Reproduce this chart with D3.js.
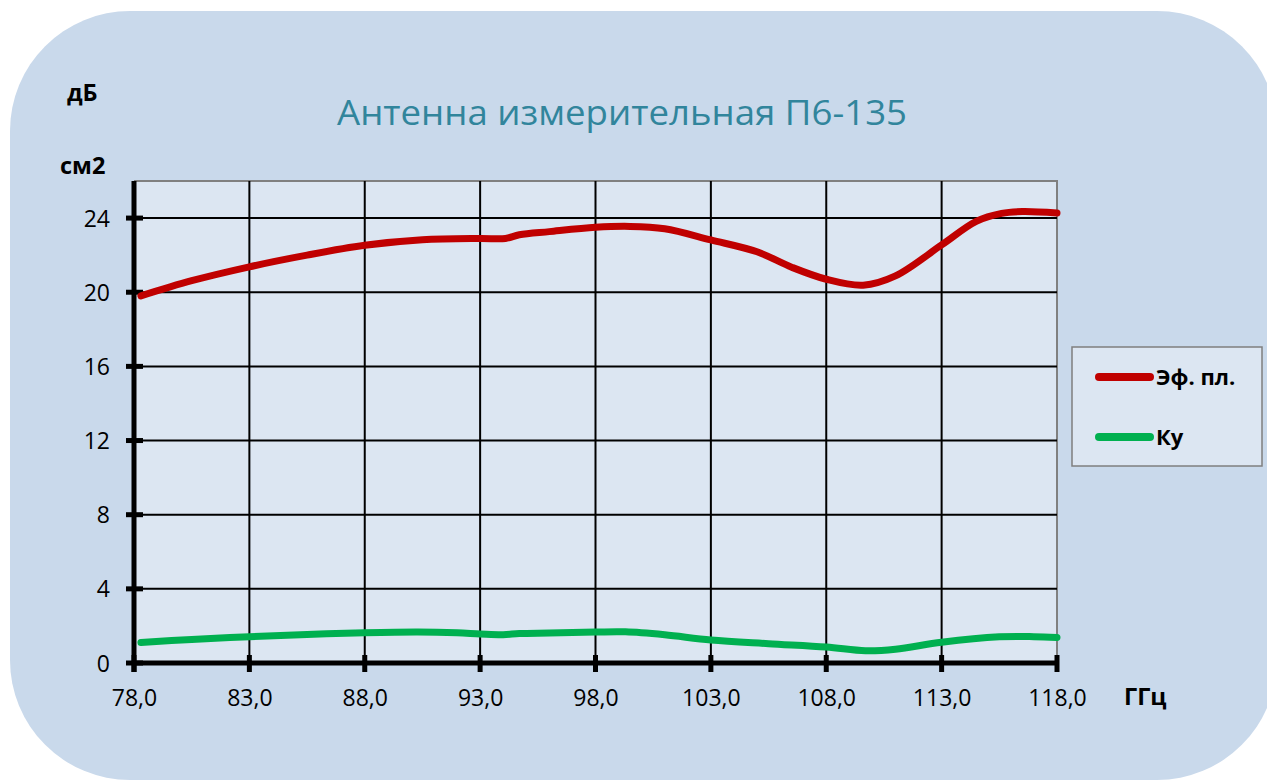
<!DOCTYPE html>
<html>
<head>
<meta charset="utf-8">
<script src="https://cdn.jsdelivr.net/npm/d3@7"></script>
<style>
  html, body { margin: 0; padding: 0; background: #ffffff; }
  svg { display: block; font-family: "Open Sans", "Noto Sans", sans-serif; }
</style>
</head>
<body>
<svg id="chart" width="1267" height="780"></svg>
<script>
// ---- Data ----
const titleText = "Антенна измерительная П6-135";
const xTicks = [78, 83, 88, 93, 98, 103, 108, 113, 118];
const yTicks = [0, 4, 8, 12, 16, 20, 24];
const seriesNames = ["Эф. пл.", "Ку"];

const effFreq   = [78.3, 80.5, 83, 85.5, 88, 90.5, 93, 94.1, 94.7, 96, 98, 99.5, 101, 103, 105, 106.5, 108, 109.6, 111, 113, 114.5, 115.6, 116.5, 118];
const effValues = [19.8, 20.62, 21.37, 22.0, 22.53, 22.83, 22.9, 22.9, 23.1, 23.27, 23.5, 23.55, 23.42, 22.82, 22.18, 21.35, 20.7, 20.38, 20.88, 22.55, 23.82, 24.25, 24.35, 24.27];

const kuFreq   = [78.3, 80.5, 83, 85.5, 88, 90.3, 92, 93, 94, 94.7, 96, 98, 99.3, 101, 103, 105.5, 108, 109.7, 111, 113, 115.5, 117, 118];
const kuValues = [1.11, 1.27, 1.42, 1.54, 1.63, 1.67, 1.63, 1.57, 1.53, 1.59, 1.62, 1.67, 1.68, 1.52, 1.24, 1.04, 0.86, 0.66, 0.74, 1.12, 1.41, 1.42, 1.38];

const colors = ["#c00000", "#00b050"];

// ---- Layout ----
const plot = { left: 134, right: 1057, top: 181, bottom: 663 };

const svg = d3.select("#chart");

// rounded background panel
svg.append("rect")
  .attr("x", 10).attr("y", 11)
  .attr("width", 1267).attr("height", 769)
  .attr("rx", 120).attr("ry", 120)
  .attr("fill", "#c9d9eb");

const x = d3.scaleLinear().domain([78, 118]).range([plot.left, plot.right]);
const y = d3.scaleLinear().domain([0, 26]).range([plot.bottom, plot.top]);

// plot area
svg.append("rect")
  .attr("x", plot.left).attr("y", plot.top)
  .attr("width", plot.right - plot.left).attr("height", plot.bottom - plot.top)
  .attr("fill", "#dce6f2");

// plot top/right border (gray)
svg.append("path")
  .attr("d", `M${plot.left},${plot.top}H${plot.right}V${plot.bottom}`)
  .attr("fill", "none").attr("stroke", "#808080").attr("stroke-width", 2);

// grid lines
const grid = svg.append("g");
grid.selectAll("line.h").data(yTicks.filter(d => d > 0)).join("line")
  .attr("class", "h")
  .attr("x1", plot.left).attr("x2", plot.right)
  .attr("y1", d => y(d)).attr("y2", d => y(d))
  .attr("stroke", "#000").attr("stroke-width", 2);
grid.selectAll("line.v").data(xTicks.slice(1, -1)).join("line")
  .attr("class", "v")
  .attr("x1", d => x(d)).attr("x2", d => x(d))
  .attr("y1", plot.top).attr("y2", plot.bottom)
  .attr("stroke", "#000").attr("stroke-width", 2);

// Y axis via d3.axisLeft
const yAxis = d3.axisLeft(y).tickValues(yTicks).tickSize(0).tickFormat(d => d);
const gy = svg.append("g").attr("transform", `translate(${plot.left},0)`).call(yAxis);
gy.select(".domain").remove();
gy.selectAll("text")
  .attr("x", -24).attr("dy", "0.35em")
  .attr("font-size", 23).attr("fill", "#000")
  .attr("font-family", "'Open Sans', sans-serif");
// y tick marks
svg.append("g").selectAll("line").data(yTicks).join("line")
  .attr("x1", plot.left - 8).attr("x2", plot.left + 9)
  .attr("y1", d => y(d)).attr("y2", d => y(d))
  .attr("stroke", "#000").attr("stroke-width", 5);
// y axis line
svg.append("line")
  .attr("x1", plot.left).attr("x2", plot.left)
  .attr("y1", plot.top).attr("y2", plot.bottom + 9)
  .attr("stroke", "#000").attr("stroke-width", 5);

// X axis via d3.axisBottom
const xAxis = d3.axisBottom(x).tickValues(xTicks).tickSize(0)
  .tickFormat(d => d.toFixed(1).replace(".", ","));
const gx = svg.append("g").attr("transform", `translate(0,${plot.bottom})`).call(xAxis);
gx.select(".domain").remove();
gx.selectAll("text")
  .attr("y", 43).attr("dy", 0)
  .attr("font-size", 23).attr("fill", "#000")
  .attr("font-family", "'Open Sans', sans-serif");
svg.append("g").selectAll("line").data(xTicks).join("line")
  .attr("x1", d => x(d)).attr("x2", d => x(d))
  .attr("y1", plot.bottom - 8).attr("y2", plot.bottom + 9)
  .attr("stroke", "#000").attr("stroke-width", 5);
svg.append("line")
  .attr("x1", plot.left).attr("x2", plot.right)
  .attr("y1", plot.bottom).attr("y2", plot.bottom)
  .attr("stroke", "#000").attr("stroke-width", 5);

// series lines
const line = d3.line().curve(d3.curveCatmullRom.alpha(0.5))
  .x(d => x(d[0])).y(d => y(d[1]));
const series = [
  d3.zip(effFreq, effValues),
  d3.zip(kuFreq, kuValues)
];
svg.append("g").selectAll("path").data(series).join("path")
  .attr("d", line)
  .attr("fill", "none")
  .attr("stroke", (d, i) => colors[i])
  .attr("stroke-width", 7)
  .attr("stroke-linecap", "round")
  .attr("stroke-linejoin", "round");

// title
svg.append("text")
  .attr("x", 622).attr("y", 125)
  .attr("text-anchor", "middle")
  .attr("font-size", 35)
  .attr("fill", "#31859c")
  .attr("textLength", 570).attr("lengthAdjust", "spacingAndGlyphs")
  .text(titleText);

// axis unit labels
const unit = (t, xx, yy) => svg.append("text").attr("x", xx).attr("y", yy)
  .attr("font-size", 23.5).attr("font-weight", "bold").attr("fill", "#000").text(t);
unit("дБ", 67, 101);
unit("см2", 60, 174);
unit("ГГц", 1124, 705);

// legend
const lg = svg.append("g");
lg.append("rect")
  .attr("x", 1072).attr("y", 347).attr("width", 190).attr("height", 119)
  .attr("fill", "#dce6f2").attr("stroke", "#7f7f7f").attr("stroke-width", 1.5);
const legendRows = lg.selectAll("g.row").data(seriesNames).join("g")
  .attr("class", "row")
  .attr("transform", (d, i) => `translate(0,${377 + i * 60})`);
legendRows.append("line")
  .attr("x1", 1099).attr("x2", 1150).attr("y1", 0).attr("y2", 0)
  .attr("stroke", (d, i) => colors[i]).attr("stroke-width", 8)
  .attr("stroke-linecap", "round");
legendRows.append("text")
  .attr("x", 1156).attr("y", 8)
  .attr("font-size", 22).attr("font-weight", "bold").attr("fill", "#000")
  .text(d => d);
</script>
</body>
</html>
